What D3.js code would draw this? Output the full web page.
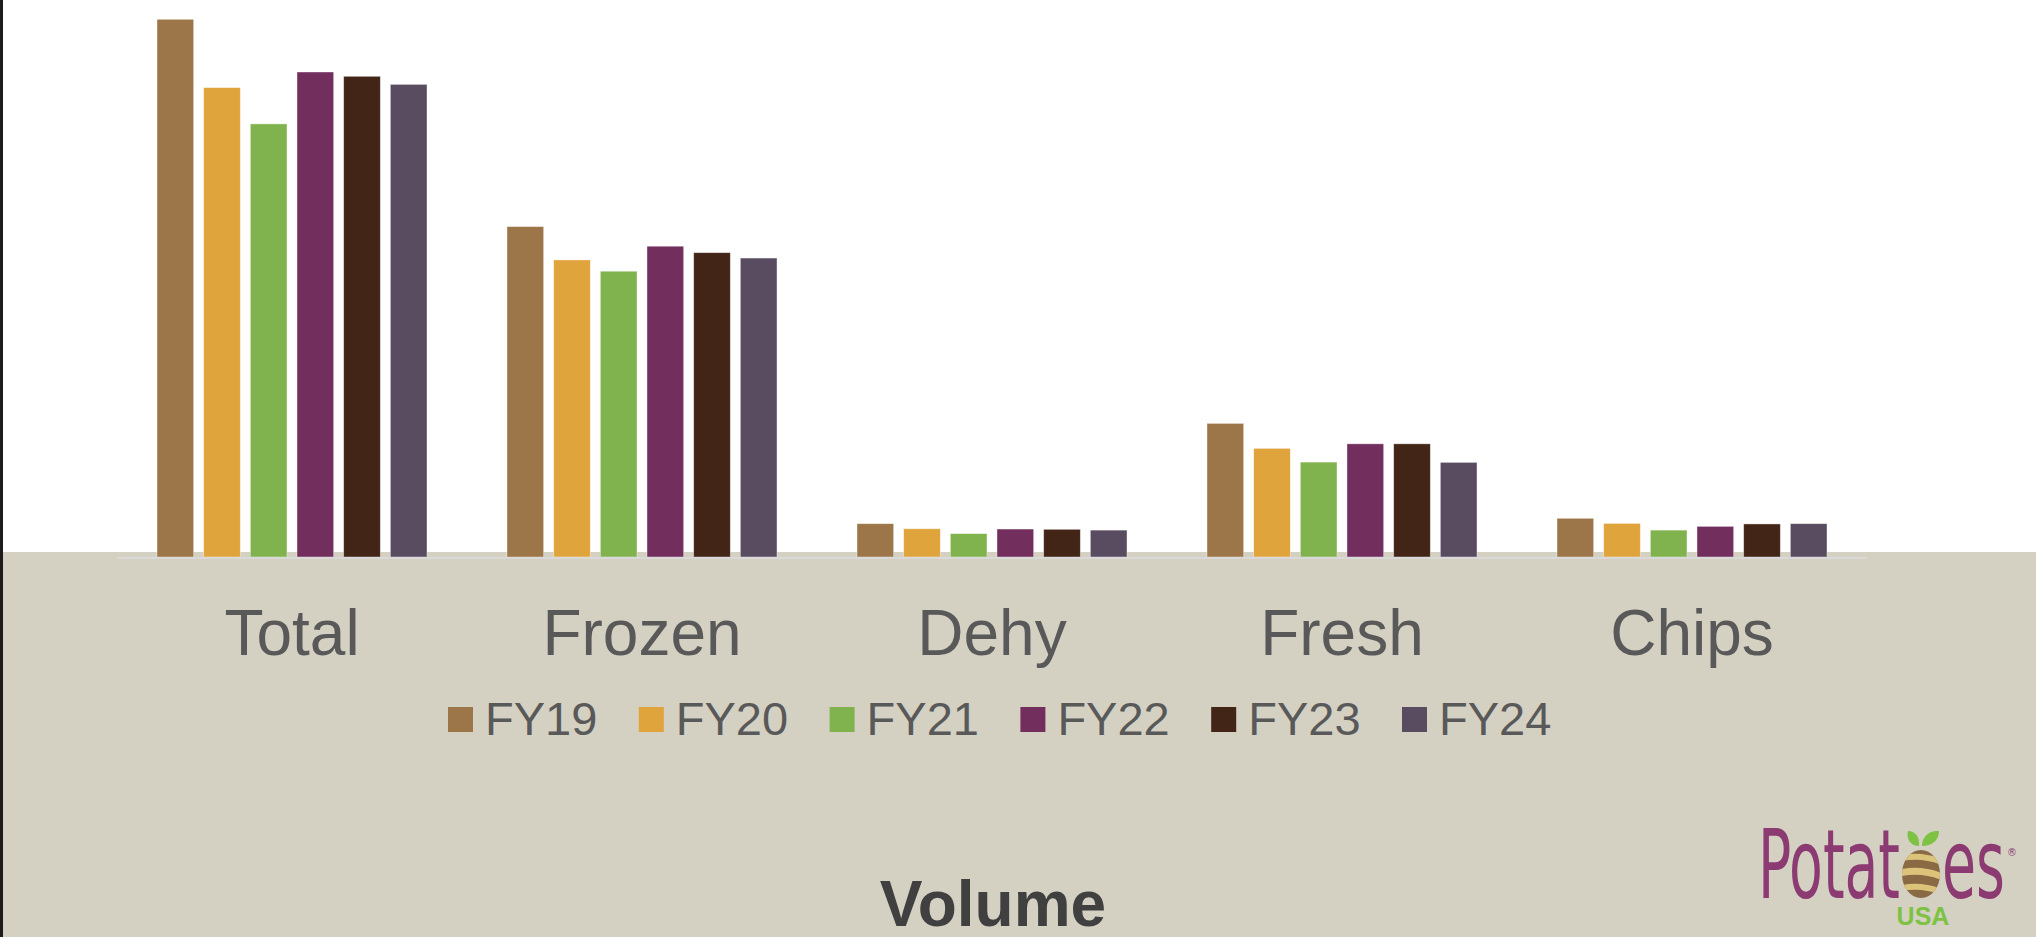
<!DOCTYPE html>
<html>
<head>
<meta charset="utf-8">
<script src="https://cdn.jsdelivr.net/npm/d3@7/dist/d3.min.js"></script>
<style>
	html, body { margin: 0; padding: 0; background: #fff; overflow: hidden; }
	svg { display: block; }
</style>
</head>
<body>
<svg></svg>
<script>
// volume, million MT
const categories = ['Total', 'Frozen', 'Dehy', 'Fresh', 'Chips'];
const years = ['FY19', 'FY20', 'FY21', 'FY22', 'FY23', 'FY24'];
const colors = ['#9c7549', '#e0a43c', '#80b24d', '#722f5e', '#432517', '#594c61'];
const total = [2.000, 1.746, 1.611, 1.804, 1.788, 1.758];
const frozen = [1.229, 1.105, 1.063, 1.156, 1.132, 1.112];
const dehy = [0.124, 0.105, 0.087, 0.104, 0.103, 0.100];
const fresh = [0.497, 0.404, 0.353, 0.421, 0.421, 0.352];
const chips = [0.144, 0.125, 0.100, 0.114, 0.123, 0.124];
const title = 'Volume';

const series = [total, frozen, dehy, fresh, chips];
const width = 2036;
const height = 937;
const baseY = 557;
const bandTop = 552;

const svg = d3.select('svg')
	.attr('width', width)
	.attr('height', height);

// backgrounds
svg.append('rect').attr('x', 0).attr('y', 0).attr('width', width).attr('height', bandTop).attr('fill', '#fff');
svg.append('rect').attr('x', 0).attr('y', bandTop).attr('width', width).attr('height', height - bandTop).attr('fill', '#d4d1c3');
svg.append('rect').attr('x', 0).attr('y', 0).attr('width', 3).attr('height', height).attr('fill', '#1c1c1c');

const x0 = d3.scaleBand()
	.domain(categories)
	.range([117, 1867]);

const x1 = d3.scaleBand()
	.domain(years)
	.range([35, 315])
	.paddingInner(0.214)
	.paddingOuter(0.107);

const y = d3.scaleLinear()
	.domain([0, 2])
	.range([baseY, 19.3]);

const color = d3.scaleOrdinal(years, colors);

const groups = svg.append('g')
	.selectAll('g')
	.data(categories)
	.join('g')
		.attr('transform', d => `translate(${x0(d)},0)`);

groups.selectAll('rect')
	.data((c, i) => years.map((yr, j) => ({year: yr, value: series[i][j]})))
	.join('rect')
		.attr('x', d => x1(d.year))
		.attr('y', d => y(d.value))
		.attr('width', x1.bandwidth())
		.attr('height', d => baseY - y(d.value))
		.attr('fill', d => color(d.year))
		.attr('stroke', '#fff')
		.attr('stroke-opacity', 0.5)
		.attr('stroke-width', 0.8);

// baseline
svg.append('line')
	.attr('x1', x0.range()[0])
	.attr('x2', x0.range()[1])
	.attr('y1', baseY + 1)
	.attr('y2', baseY + 1)
	.attr('stroke', '#d9d9d9')
	.attr('stroke-width', 2);

// category labels
svg.append('g')
	.selectAll('text')
	.data(categories)
	.join('text')
		.text(d => d)
		.attr('x', d => x0(d) + x0.bandwidth() / 2)
		.attr('y', 655)
		.attr('text-anchor', 'middle')
		.attr('font-family', '"Liberation Sans", Arial, sans-serif')
		.attr('font-size', 64)
		.attr('fill', '#595959');

// legend
const legendStep = 190.8;
const legendX = 448;
const legend = svg.append('g')
	.selectAll('g')
	.data(years)
	.join('g')
		.attr('transform', (d, i) => `translate(${legendX + i * legendStep},0)`);

legend.append('rect')
	.attr('x', 0)
	.attr('y', 707)
	.attr('width', 25)
	.attr('height', 25)
	.attr('fill', d => color(d));

legend.append('text')
	.text(d => d)
	.attr('x', 37)
	.attr('y', 735)
	.attr('font-family', '"Liberation Sans", Arial, sans-serif')
	.attr('font-size', 47)
	.attr('fill', '#595959');

// title
svg.append('text')
	.text(title)
	.attr('x', 993)
	.attr('y', 926)
	.attr('text-anchor', 'middle')
	.attr('font-family', '"Liberation Sans", Arial, sans-serif')
	.attr('font-weight', 'bold')
	.attr('font-size', 64)
	.attr('fill', '#404040');

// logo
const logo = svg.append('g');
const logoFont = '"Liberation Sans Narrow", "DejaVu Sans Condensed", sans-serif';
logo.append('text')
	.text('Potat')
	.attr('x', 1758)
	.attr('y', 898)
	.attr('textLength', 142)
	.attr('lengthAdjust', 'spacingAndGlyphs')
	.attr('font-family', logoFont)
	.attr('font-size', 96)
	.attr('fill', '#8c3a72');
logo.append('text')
	.text('es')
	.attr('x', 1942)
	.attr('y', 898)
	.attr('textLength', 63)
	.attr('lengthAdjust', 'spacingAndGlyphs')
	.attr('font-family', logoFont)
	.attr('font-size', 96)
	.attr('fill', '#8c3a72');
logo.append('text')
	.text('®')
	.attr('x', 2007)
	.attr('y', 856)
	.attr('font-family', logoFont)
	.attr('font-size', 11)
	.attr('fill', '#8c3a72');

// potato "o"
logo.append('clipPath').attr('id', 'spud')
	.append('ellipse').attr('cx', 1921).attr('cy', 874).attr('rx', 19).attr('ry', 24);
logo.append('ellipse')
	.attr('cx', 1921).attr('cy', 874).attr('rx', 19).attr('ry', 24)
	.attr('fill', '#8a6a45');
const peel = logo.append('g').attr('clip-path', 'url(#spud)');
[[856, 6], [870, 7], [886, 6]].forEach(([py, h]) => {
	peel.append('path')
		.attr('d', `M1898,${py} Q1921,${py - 6} 1944,${py + 4} L1944,${py + 4 + h} Q1921,${py - 6 + h} 1898,${py + h} Z`)
		.attr('fill', '#dcc37a');
});
logo.append('path')
	.attr('d', 'M1919,846 C1910,846 1906,838 1908,831 C1916,831 1920,838 1919,846 Z')
	.attr('fill', '#7dc242');
logo.append('path')
	.attr('d', 'M1922,846 C1922,836 1930,830 1939,831 C1939,840 1932,846 1922,846 Z')
	.attr('fill', '#7dc242');

logo.append('text')
	.text('USA')
	.attr('x', 1923)
	.attr('y', 925)
	.attr('text-anchor', 'middle')
	.attr('font-family', '"Liberation Sans", Arial, sans-serif')
	.attr('font-weight', 'bold')
	.attr('font-size', 25)
	.attr('fill', '#7dc242');
</script>
</body>
</html>
